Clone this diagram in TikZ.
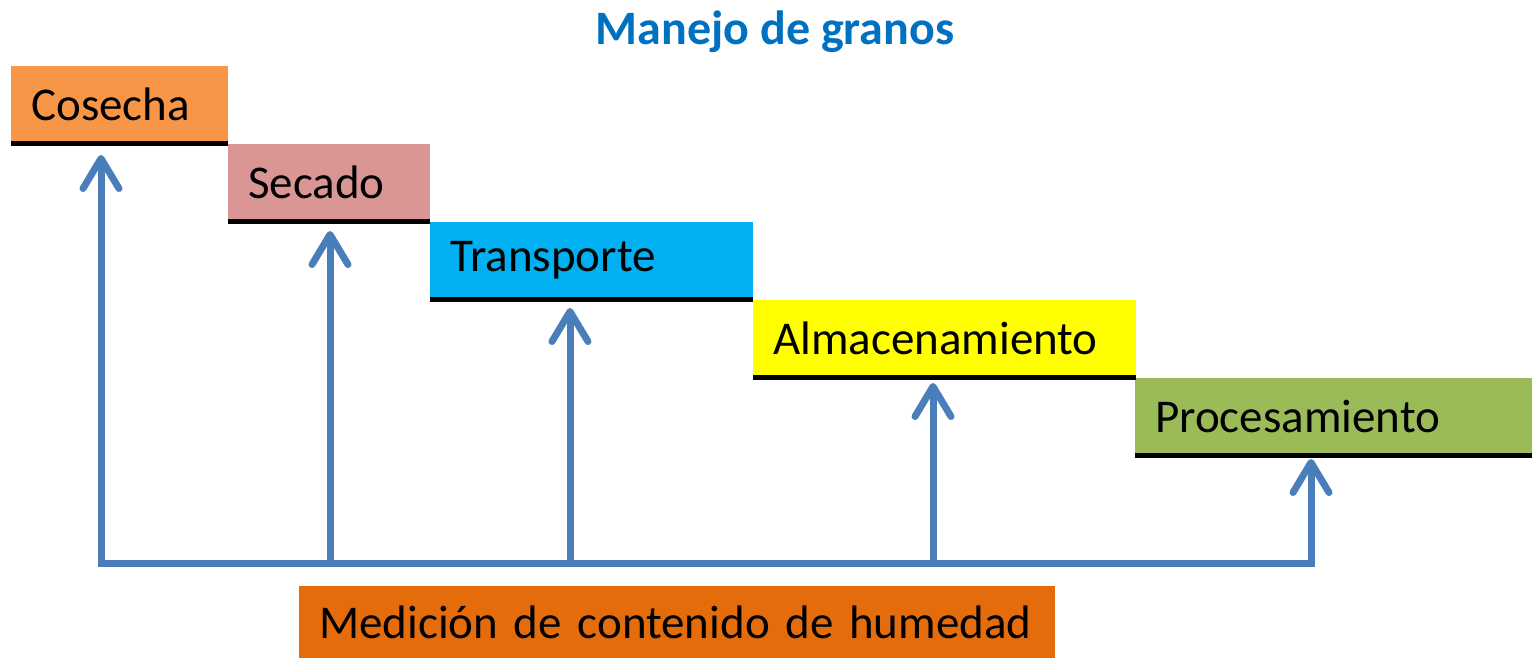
\documentclass[tikz,border=0pt]{standalone}
\usepackage{fontspec}
\setmainfont{Carlito}
\usetikzlibrary{arrows.meta}
\definecolor{cCos}{HTML}{F79646}
\definecolor{cSec}{HTML}{D99694}
\definecolor{cTra}{HTML}{00B0F0}
\definecolor{cAlm}{HTML}{FFFF00}
\definecolor{cPro}{HTML}{9BBB59}
\definecolor{cMed}{HTML}{E46C0A}
\definecolor{cBlue}{HTML}{4A7EBB}
\definecolor{cTitle}{HTML}{0070C0}
\tikzset{
  stage/.style={rectangle, anchor=north west, inner xsep=20pt, inner ysep=0pt,
    minimum height=77pt, align=left, text=black,
    font=\fontsize{47}{52}\selectfont},
  underline/.style={line width=5pt, black},
  bus/.style={line width=7pt, cBlue},
  tip/.style={bus, -{Straight Barb[length=30pt, width=36pt, round]}},
  tiptwo/.style={bus, {Straight Barb[length=30pt, width=36pt, round]}-{Straight Barb[length=30pt, width=36pt, round]}}
}
\begin{document}
\begin{tikzpicture}[x=1pt, y=-1pt]
\useasboundingbox (0,0) rectangle (1532,658);
\node[font=\bfseries\fontsize{48}{54}\selectfont, text=cTitle, anchor=base] (title) at (775,45) {Manejo de granos};

\node[stage, fill=cCos, minimum width=217pt, text width=177pt] (cos) at (11,66) {Cosecha};
\node[stage, fill=cSec, minimum width=202pt, text width=162pt] (sec) at (228,144) {Secado};
\node[stage, fill=cTra, minimum width=323pt, text width=283pt] (tra) at (430,222) {Transporte};
\node[stage, fill=cAlm, minimum width=383pt, text width=343pt] (alm) at (753,300) {Almacenamiento};
\node[stage, fill=cPro, minimum width=397pt, text width=357pt] (pro) at (1135,378) {Procesamiento};
\node[stage, fill=cMed, minimum width=756pt, minimum height=72pt, text width=716pt] (med) at (299,586) {Medición de contenido de humedad};

\foreach \n in {cos,sec,tra,alm,pro}{
  \draw[underline] (\n.south west) -- (\n.south east);
}

\coordinate (b1) at (101,563);
\coordinate (b2) at (330,563);
\coordinate (b3) at (570,563);
\coordinate (b4) at (933,563);
\coordinate (b5) at (1311,563);
\coordinate (t1) at (101,155);
\coordinate (t2) at (330,231);
\coordinate (t3) at (570,308);
\coordinate (t4) at (933,383);
\coordinate (t5) at (1311,459);

\draw[tiptwo, line join=miter] (t1) -- (b1) -- (b5) -- (t5);
\draw[tip] (b2) -- (t2);
\draw[tip] (b3) -- (t3);
\draw[tip] (b4) -- (t4);
\end{tikzpicture}
\end{document}
